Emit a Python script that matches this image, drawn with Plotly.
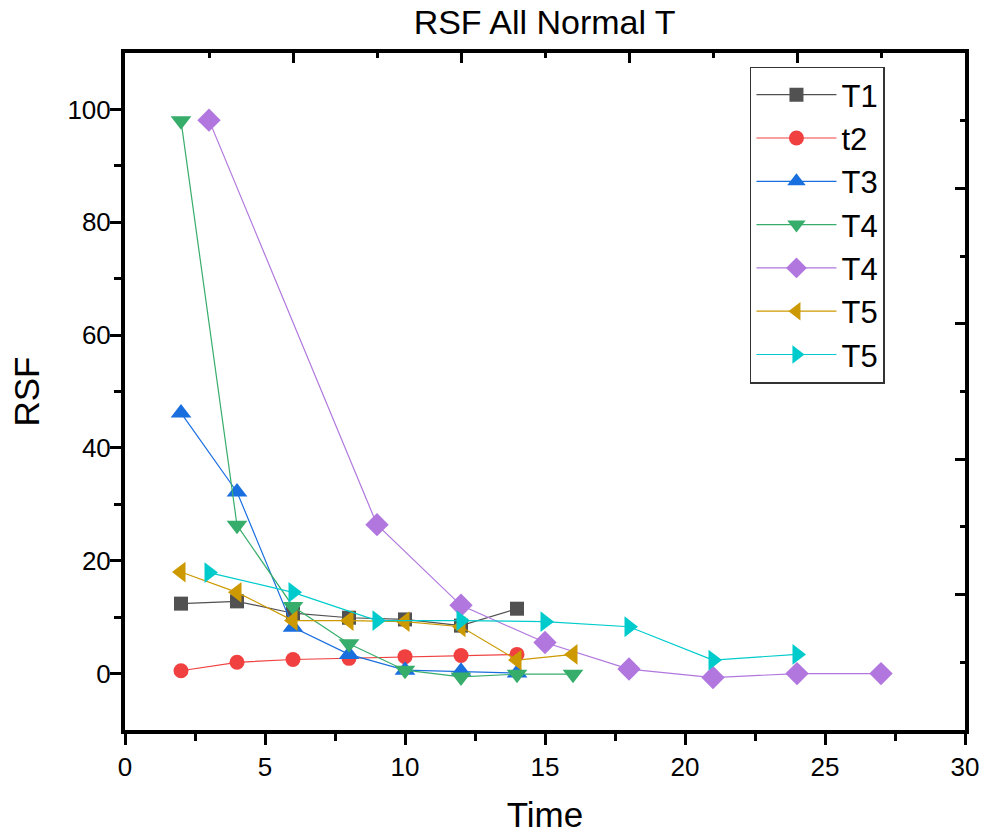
import plotly.graph_objects as go

# ---- data ----
t1_x = [2, 4, 6, 8, 10, 12, 14]
t1_y = [12.4, 12.8, 10.7, 9.9, 9.6, 8.5, 11.5]

t2_x = [2, 4, 6, 8, 10, 12, 14]
t2_y = [0.5, 2.0, 2.5, 2.7, 3.0, 3.2, 3.4]

t3_x = [2, 4, 6, 8, 10, 12, 14]
t3_y = [46.2, 32.2, 8.2, 3.4, 0.6, 0.4, 0.1]

t4a_x = [2, 4, 6, 8, 10, 12, 14, 16]
t4a_y = [98.0, 26.3, 11.9, 5.3, 0.6, -0.6, -0.1, -0.1]

t4b_x = [3, 9, 12, 15, 18, 21, 24, 27]
t4b_y = [98.1, 26.4, 12.1, 5.5, 0.8, -0.7, 0.0, 0.0]

t5a_x = [2, 4, 6, 8, 10, 12, 14, 16]
t5a_y = [18.0, 14.4, 9.4, 9.4, 9.2, 8.3, 2.4, 3.4]

t5b_x = [3, 6, 9, 12, 15, 18, 21, 24]
t5b_y = [17.9, 14.4, 9.4, 9.4, 9.2, 8.3, 2.4, 3.4]

names = ["T1", "t2", "T3", "T4", "T4", "T5", "T5"]
colors = ["#515151", "#F14040", "#1A6FDF", "#37AD6B", "#B177DE", "#CC9900", "#00CBCC"]
symbols = ["square", "circle", "triangle-up", "triangle-down", "diamond", "triangle-left", "triangle-right"]
sizes = [14, 15, 18, 18, 18, 18, 18]

series = [(t1_x, t1_y), (t2_x, t2_y), (t3_x, t3_y), (t4a_x, t4a_y),
          (t4b_x, t4b_y), (t5a_x, t5a_y), (t5b_x, t5b_y)]

fig = go.Figure()
for i, (xs, ys) in enumerate(series):
    fig.add_trace(go.Scatter(
        x=xs, y=ys,
        mode="lines+markers", name=names[i], legendgroup="g%d" % i,
        line=dict(color=colors[i], width=1.2),
        marker=dict(symbol=symbols[i], size=sizes[i], color=colors[i]),
    ))

# invisible helper trace so the mirrored (top/right) axes are drawn
fig.add_trace(go.Scatter(x=[None], y=[None], xaxis="x2", yaxis="y2",
                         showlegend=False, hoverinfo="skip", mode="markers"))

font_family = "Liberation Sans, Arial, sans-serif"

fig.update_layout(
    width=984, height=834,
    margin=dict(l=125, r=19, t=53, b=104),
    paper_bgcolor="white", plot_bgcolor="white",
    font=dict(family=font_family, color="black"),
    title=dict(text="RSF All Normal T", x=0.5535, xanchor="center", y=0.973, yanchor="middle",
               font=dict(size=34, family=font_family, color="black")),
    showlegend=True,
    legend=dict(x=0.744, y=0.98, xanchor="left", yanchor="top",
                bordercolor="#333333", borderwidth=1.5, bgcolor="white",
                font=dict(size=31, family=font_family, color="black"),
                tracegroupgap=0, itemwidth=80, traceorder="grouped"),
    xaxis=dict(range=[0, 30], tickmode="linear", tick0=0, dtick=5, automargin=False,
               ticks="outside", ticklen=11, tickwidth=3, tickcolor="black",
               minor=dict(dtick=2.5, ticks="outside", ticklen=7, tickwidth=3, tickcolor="black"),
               showline=True, linewidth=4, linecolor="black", showgrid=False, zeroline=False,
               tickfont=dict(size=26, family=font_family),
               title=dict(text="Time", font=dict(size=35, family=font_family), standoff=24)),
    yaxis=dict(range=[-10, 110], tickmode="array", tickvals=[0, 20, 40, 60, 80, 100],
               automargin=False, ticklabelstandoff=-6,
               ticks="outside", ticklen=11, tickwidth=3, tickcolor="black",
               minor=dict(tickmode="array", tickvals=[10, 30, 50, 70, 90], ticks="outside",
                          ticklen=7, tickwidth=3, tickcolor="black"),
               showline=True, linewidth=4, linecolor="black", showgrid=False, zeroline=False,
               tickfont=dict(size=26, family=font_family),
               title=dict(text="RSF", font=dict(size=35, family=font_family), standoff=18)),
    xaxis2=dict(range=[0, 30], overlaying="x", side="top", anchor="y",
                tickmode="linear", tick0=0, dtick=6, ticks="inside", ticklen=10, tickwidth=3,
                tickcolor="black", showticklabels=False,
                minor=dict(dtick=3, ticks="inside", ticklen=5, tickwidth=3, tickcolor="black"),
                showline=True, linewidth=4, linecolor="black", showgrid=False, zeroline=False),
    yaxis2=dict(range=[0, 120], overlaying="y", side="right", anchor="x",
                tickmode="linear", tick0=0, dtick=24, ticks="inside", ticklen=10, tickwidth=3,
                tickcolor="black", showticklabels=False,
                minor=dict(dtick=12, ticks="inside", ticklen=5, tickwidth=3, tickcolor="black"),
                showline=True, linewidth=4, linecolor="black", showgrid=False, zeroline=False),
)

fig.write_html("out.html")
